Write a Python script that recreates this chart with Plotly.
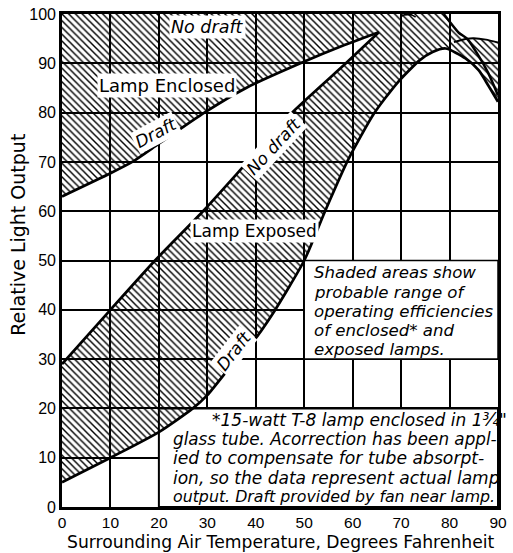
import plotly.graph_objects as go

# Temperature (deg F) / relative light output readings for each boundary curve
enc_draft_x = [0, 10, 14.5, 20, 29.4, 38, 49.2, 58.3, 65.4]
enc_draft_y = [63, 67.7, 70, 73.7, 80, 85, 90, 93.7, 96.3]

exp_nodraft_x = [0, 10, 19.2, 29.3, 38.3, 47.5, 58.6, 65.4]
exp_nodraft_y = [29, 40, 50, 60.2, 70, 80, 90, 96.3]

exp_draft_x = [0, 10, 20, 27, 30, 36, 39.4, 43.5, 50, 54.3, 59, 64.4, 69.1, 73.8, 76.5, 79.2, 83.3, 86, 88, 90]
exp_draft_y = [5, 10, 15.2, 20, 22.7, 30, 33.5, 39.2, 50, 60, 70.3, 79.8, 85.9, 90.6, 92.3, 93, 91, 88.6, 85.5, 82.2]

nodraft_fall_x = [78.8, 81.9, 83.6, 86, 88, 90]
nodraft_fall_y = [100, 96.2, 95.0, 91.5, 88, 83.5]

shelf_x = [80.9, 83.6, 85, 87.5, 90]
shelf_y = [94.3, 95.0, 95.1, 94.8, 94.2]

cap_x = [69.8, 70.6, 71.4, 72.2, 73.0]
cap_y = [99.4, 99.8, 99.9, 99.8, 99.4]

x_ticks = [0, 10, 20, 30, 40, 50, 60, 70, 80, 90]
y_ticks = [0, 10, 20, 30, 40, 50, 60, 70, 80, 90, 100]

INK = "black"

# Outline of the shaded band: top edge, falling no-draft edge, shelf,
# exposed draft edge back to the left, then around the white wedge.
poly_x = [0, nodraft_fall_x[0]]
poly_y = [100, 100]
for x, y in zip(nodraft_fall_x, nodraft_fall_y):
    if x <= 83.6:
        poly_x.append(x)
        poly_y.append(y)
for x, y in zip(shelf_x, shelf_y):
    if x > 83.6:
        poly_x.append(x)
        poly_y.append(y)
poly_x += exp_draft_x[::-1] + exp_nodraft_x + enc_draft_x[::-1] + [0]
poly_y += exp_draft_y[::-1] + exp_nodraft_y + enc_draft_y[::-1] + [100]

fig = go.Figure()

fig.add_trace(go.Scatter(
    x=poly_x, y=poly_y, mode="lines", fill="toself",
    fillcolor="rgba(0,0,0,0)",
    fillpattern=dict(shape="\\", fgcolor=INK, bgcolor="rgba(0,0,0,0)",
                     size=4.8, solidity=0.3, fillmode="replace"),
    line=dict(width=0), hoverinfo="skip", showlegend=False,
))

for cx, cy, w in [
    (enc_draft_x, enc_draft_y, 2.7),
    (exp_nodraft_x, exp_nodraft_y, 2.7),
    (exp_draft_x, exp_draft_y, 2.7),
    (nodraft_fall_x, nodraft_fall_y, 2.5),
    (shelf_x, shelf_y, 2.0),
    (cap_x, cap_y, 1.8),
]:
    fig.add_trace(go.Scatter(
        x=cx, y=cy, mode="lines",
        line=dict(color=INK, width=w, shape="spline", smoothing=0.6),
        hoverinfo="skip", showlegend=False,
    ))

# white note panels sitting over the grid
shapes = [
    dict(type="rect", xref="x", yref="y", x0=50, x1=90, y0=30, y1=50,
         fillcolor="white", line=dict(color=INK, width=1.5), layer="between"),
    dict(type="rect", xref="x", yref="y", x0=20, x1=90, y0=0, y1=20,
         fillcolor="white", line=dict(color=INK, width=2), layer="between"),
]

HAND = "DejaVu Sans"
annotations = []


def label(text, x, y, size=15, angle=0, italic=False, bg="white"):
    annotations.append(dict(
        text=text, x=x, y=y, xref="x", yref="y", showarrow=False,
        textangle=angle, bgcolor=bg, borderpad=1,
        font=dict(family=HAND, size=size, color=INK,
                  style="italic" if italic else "normal"),
        xanchor="center", yanchor="middle",
    ))


label("No draft", 30, 97.4, size=17.5, italic=True)
label("Lamp Enclosed", 21.7, 85.5, size=18)
label("Draft", 19.3, 75.8, size=17, angle=-28, italic=True)
label("No draft", 43.7, 73.3, size=17, angle=-47, italic=True)
label("Lamp Exposed", 39.8, 56, size=17)
label("Draft", 35.5, 31.6, size=17, angle=-52, italic=True)

note1 = ["Shaded areas show", "probable range of", "operating efficiencies",
         "of enclosed* and", "exposed lamps."]
note1_y = [47.5, 43.6, 39.7, 35.8, 31.9]
for t, y in zip(note1, note1_y):
    annotations.append(dict(
        text=t, x=51.7, y=y, xref="x", yref="y", showarrow=False,
        xanchor="left", yanchor="middle",
        font=dict(family=HAND, size=16.6, color=INK, style="italic"),
    ))

note2 = ["*15-watt T-8 lamp enclosed in 1¾\"",
         "glass tube. Acorrection has been appl-",
         "ied to compensate for tube absorpt-",
         "ion, so the data represent actual lamp",
         "output. Draft provided by fan near lamp."]
note2_x = [30.6, 22.6, 22.6, 22.6, 22.6]
note2_y = [17.7, 13.75, 9.85, 5.95, 2.05]
note2_size = [17.0, 16.8, 17.2, 17.0, 15.8]
for t, x, y, s in zip(note2, note2_x, note2_y, note2_size):
    annotations.append(dict(
        text=t, x=x, y=y, xref="x", yref="y", showarrow=False,
        xanchor="left", yanchor="middle",
        font=dict(family=HAND, size=s, color=INK, style="italic"),
    ))

annotations.append(dict(
    text="Surrounding Air Temperature, Degrees Fahrenheit",
    x=0.5, y=-0.0955, xref="paper", yref="paper", showarrow=False,
    xanchor="center", yanchor="bottom",
    font=dict(family=HAND, size=17.2, color=INK),
))
annotations.append(dict(
    text="Relative Light Output",
    x=-0.1, y=0.553, xref="paper", yref="paper", showarrow=False,
    textangle=-90, xanchor="center", yanchor="middle",
    font=dict(family=HAND, size=19, color=INK),
))

axis_common = dict(
    showgrid=True, gridcolor=INK, gridwidth=1.5,
    showline=True, linecolor=INK, linewidth=2.7, mirror=True,
    zeroline=False, ticks="", ticklabeloverflow="allow",
    tickfont=dict(family="Liberation Sans", size=16, color=INK),
)

fig.update_layout(
    width=513, height=553,
    margin=dict(l=62, r=6, t=13, b=46),
    paper_bgcolor="white", plot_bgcolor="white",
    showlegend=False,
    shapes=shapes,
    annotations=annotations,
    xaxis=dict(range=[0, 90], tickvals=x_ticks, **axis_common),
    yaxis=dict(range=[0, 100], tickvals=y_ticks, **axis_common),
)
fig.update_xaxes(tickfont_size=15.5)

fig.write_html("out.html")
